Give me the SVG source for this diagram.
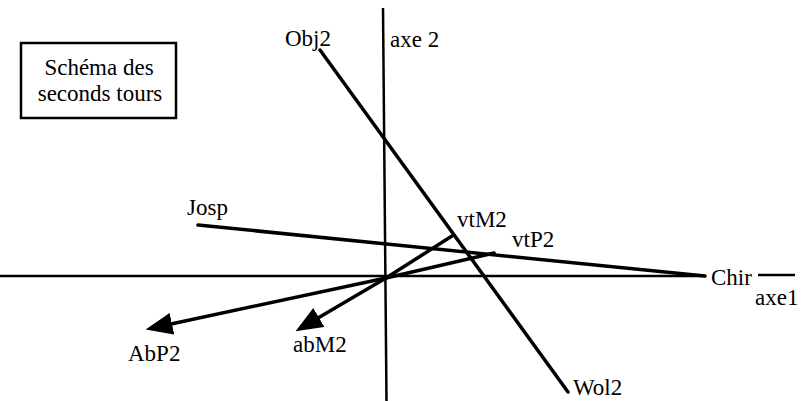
<svg xmlns="http://www.w3.org/2000/svg" width="811" height="401" viewBox="0 0 811 401">
<style>
text { font-family: "Liberation Serif", "Times New Roman", serif; font-size: 23px; fill: #000; }
.ax { stroke: #000; stroke-width: 2.5; fill: none; }
.ln { stroke: #000; stroke-width: 3.5; fill: none; stroke-linecap: round; }
</style>
<defs>
<marker id="ah" markerWidth="28" markerHeight="22" refX="1" refY="11" orient="auto" markerUnits="userSpaceOnUse">
<path d="M0,0 L27,11 L0,22 Z" fill="#000"/>
</marker>
</defs>
<rect width="811" height="401" fill="#fff"/>
<g id="legend">
<rect x="21" y="43" width="155" height="75" fill="#fff" stroke="#000" stroke-width="2.5"/>
<text x="99" y="75" text-anchor="middle">Schéma des</text>
<text x="100" y="101" text-anchor="middle">seconds tours</text>
</g>
<g id="connectors">
<line class="ax" x1="383" y1="8" x2="386.5" y2="401"/>
<line class="ax" x1="0" y1="276" x2="705" y2="276"/>
<line class="ax" x1="758" y1="275" x2="795" y2="275"/>
<line class="ln" x1="198" y1="225" x2="705" y2="276" stroke-width="3"/>
<line class="ln" x1="320" y1="50" x2="568" y2="392"/>
<line class="ln" x1="386" y1="278" x2="452" y2="236"/>
<line class="ln" x1="386" y1="278" x2="494" y2="253"/>
<line class="ln" x1="386" y1="278" x2="171" y2="324" marker-end="url(#ah)"/>
<line class="ln" x1="386" y1="278" x2="318" y2="318" marker-end="url(#ah)"/>
</g>
<g id="axe2"><text x="390" y="47">axe 2</text></g>
<g id="axe1"><text x="755" y="305">axe1</text></g>
<g id="Obj2"><text x="285" y="46">Obj2</text></g>
<g id="Wol2"><text x="573" y="395">Wol2</text></g>
<g id="Josp"><text x="187" y="215">Josp</text></g>
<g id="Chir"><text x="711" y="285">Chir</text></g>
<g id="vtM2"><text x="457" y="227">vtM2</text></g>
<g id="vtP2"><text x="512" y="247">vtP2</text></g>
<g id="AbP2"><text x="128" y="361">AbP2</text></g>
<g id="abM2"><text x="293" y="352">abM2</text></g>
</svg>
